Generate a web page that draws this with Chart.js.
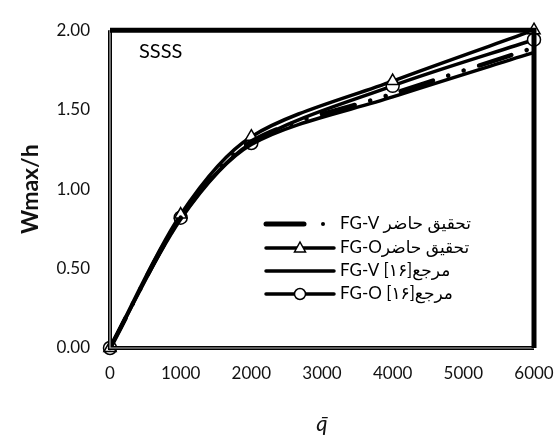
<!DOCTYPE html>
<html>
<head>
<meta charset="utf-8">
<script src="https://cdn.jsdelivr.net/npm/chart.js@4"></script>
<style>
  html, body { margin: 0; padding: 0; background: #fff; }
  #wrap { width: 556px; height: 437px; position: relative; }
</style>
</head>
<body>
<div id="wrap"><canvas id="chart"></canvas></div>
<script>
// q-bar load steps
const qValues = [0, 1000, 2000, 4000, 6000];

// Wmax/h for each case
const fgvPresent = [0, 0.82, 1.30, 1.60, 1.89];
const fgoPresent = [0, 0.84, 1.33, 1.68, 2.00];
const fgvRef = [0, 0.81, 1.28, 1.58, 1.86];
const fgoRef = [0, 0.82, 1.29, 1.65, 1.94];

const seriesNames = [
    "FG-V تحقیق حاضر",
    "FG-Oتحقیق حاضر",
    "FG-V [۱۶]مرجع",
    "FG-O [۱۶]مرجع"
];

const yTicks = [0, 0.5, 1, 1.5, 2];
const xTicks = [0, 1000, 2000, 3000, 4000, 5000, 6000];

const FONT = "Lato, 'DejaVu Sans', sans-serif";

function toPoints(values) {
    return qValues.map((q, i) => ({ x: q, y: values[i] }));
}

// Function to draw a small marker (used in legend)
function drawMarker(ctx, type, x, y) {
    ctx.save();
    ctx.fillStyle = "#fff";
    ctx.strokeStyle = "#000";
    ctx.lineWidth = 1.5;
    ctx.beginPath();
    if (type === "triangle") {
        ctx.moveTo(x, y - 6);
        ctx.lineTo(x + 5.5, y + 4);
        ctx.lineTo(x - 5.5, y + 4);
        ctx.closePath();
    } else {
        ctx.arc(x, y, 5.5, 0, Math.PI * 2);
    }
    ctx.fill();
    ctx.stroke();
    ctx.restore();
}

// Frame, SSSS label and the legend
const extras = {
    id: "extras",
    afterDraw(chart) {
        const ctx = chart.ctx;
        const a = chart.chartArea;
        ctx.save();

        // left and bottom axis: double line
        ctx.strokeStyle = "#000";
        ctx.lineWidth = 4;
        ctx.beginPath();
        ctx.moveTo(a.left, a.top);
        ctx.lineTo(a.left, a.bottom);
        ctx.lineTo(a.right, a.bottom);
        ctx.stroke();
        ctx.strokeStyle = "#bbb";
        ctx.lineWidth = 1.2;
        ctx.beginPath();
        ctx.moveTo(a.left, a.top);
        ctx.lineTo(a.left, a.bottom);
        ctx.lineTo(a.right, a.bottom);
        ctx.stroke();

        // top and right border
        ctx.strokeStyle = "#000";
        ctx.lineWidth = 5;
        ctx.beginPath();
        ctx.moveTo(a.left, a.top);
        ctx.lineTo(a.right, a.top);
        ctx.lineTo(a.right, a.bottom);
        ctx.stroke();

        // case label
        ctx.fillStyle = "#000";
        ctx.font = "20px " + FONT;
        ctx.textBaseline = "middle";
        ctx.fillText("SSSS", 139, 52);

        // legend
        const rows = [224, 248, 271, 294];
        ctx.font = "17px " + FONT;
        ctx.direction = "ltr";
        rows.forEach((y, i) => {
            ctx.strokeStyle = "#000";
            ctx.lineCap = "round";
            if (i === 0) {
                ctx.lineWidth = 5;
                ctx.beginPath();
                ctx.moveTo(266, y);
                ctx.lineTo(304, y);
                ctx.stroke();
                ctx.beginPath();
                ctx.arc(323, y, 2, 0, Math.PI * 2);
                ctx.fillStyle = "#000";
                ctx.fill();
            } else {
                ctx.lineWidth = 3.5;
                ctx.beginPath();
                ctx.moveTo(266, y);
                ctx.lineTo(334, y);
                ctx.stroke();
                if (i === 1) drawMarker(ctx, "triangle", 300, y);
                if (i === 3) drawMarker(ctx, "circle", 300, y);
            }
            ctx.fillStyle = "#000";
            ctx.fillText(seriesNames[i], 340, y);
        });
        ctx.restore();
    }
};

const baseLine = {
    borderColor: "#000",
    backgroundColor: "#fff",
    borderWidth: 3.5,
    tension: 0.3,
    clip: false,
    pointBorderColor: "#000",
    pointBackgroundColor: "#fff",
    pointBorderWidth: 1.5
};

const ctx = document.getElementById("chart").getContext("2d");

new Chart(ctx, {
    type: "line",
    data: {
        datasets: [
            Object.assign({}, baseLine, {
                label: seriesNames[0],
                data: toPoints(fgvPresent),
                borderWidth: 4.5,
                borderDash: [34, 16, 0.1, 16, 0.1, 16],
                borderCapStyle: "round",
                pointRadius: 0
            }),
            Object.assign({}, baseLine, {
                label: seriesNames[1],
                data: toPoints(fgoPresent),
                pointStyle: "triangle",
                pointRadius: 7
            }),
            Object.assign({}, baseLine, {
                label: seriesNames[2],
                data: toPoints(fgvRef),
                pointRadius: 0
            }),
            Object.assign({}, baseLine, {
                label: seriesNames[3],
                data: toPoints(fgoRef),
                pointStyle: "circle",
                pointRadius: 6.5
            })
        ]
    },
    options: {
        responsive: true,
        maintainAspectRatio: false,
        animation: false,
        layout: { padding: { top: 24, right: 0, left: 0, bottom: 0 } },
        plugins: {
            legend: { display: false },
            tooltip: { enabled: false }
        },
        scales: {
            x: {
                type: "linear",
                min: 0,
                max: 6000,
                afterBuildTicks: (scale) => { scale.ticks = xTicks.map(v => ({ value: v })); },
                afterFit: (scale) => {
                    scale.height = 89;
                    scale.paddingRight = 22;
                    scale.paddingLeft = 0;
                },
                grid: { display: false, drawTicks: false },
                border: { display: false },
                ticks: {
                    padding: 15,
                    color: "#111",
                    font: { family: FONT, size: 17 },
                    maxRotation: 0,
                    callback: (v) => String(v)
                },
                title: {
                    display: true,
                    text: "q̄",
                    color: "#111",
                    font: { family: FONT, size: 22, style: "italic" },
                    padding: { top: 16, bottom: 0 }
                }
            },
            y: {
                min: 0,
                max: 2,
                afterBuildTicks: (scale) => { scale.ticks = yTicks.map(v => ({ value: v })); },
                afterFit: (scale) => { scale.width = 110; },
                grid: { display: false, drawTicks: false },
                border: { display: false },
                ticks: {
                    padding: 20,
                    color: "#111",
                    font: { family: FONT, size: 17 },
                    callback: (v) => v.toFixed(2)
                },
                title: {
                    display: true,
                    text: "Wmax/h",
                    color: "#111",
                    font: { family: FONT, size: 23, weight: "bold" },
                    padding: { top: 17, bottom: 0 }
                }
            }
        }
    },
    plugins: [extras]
});
</script>
</body>
</html>
